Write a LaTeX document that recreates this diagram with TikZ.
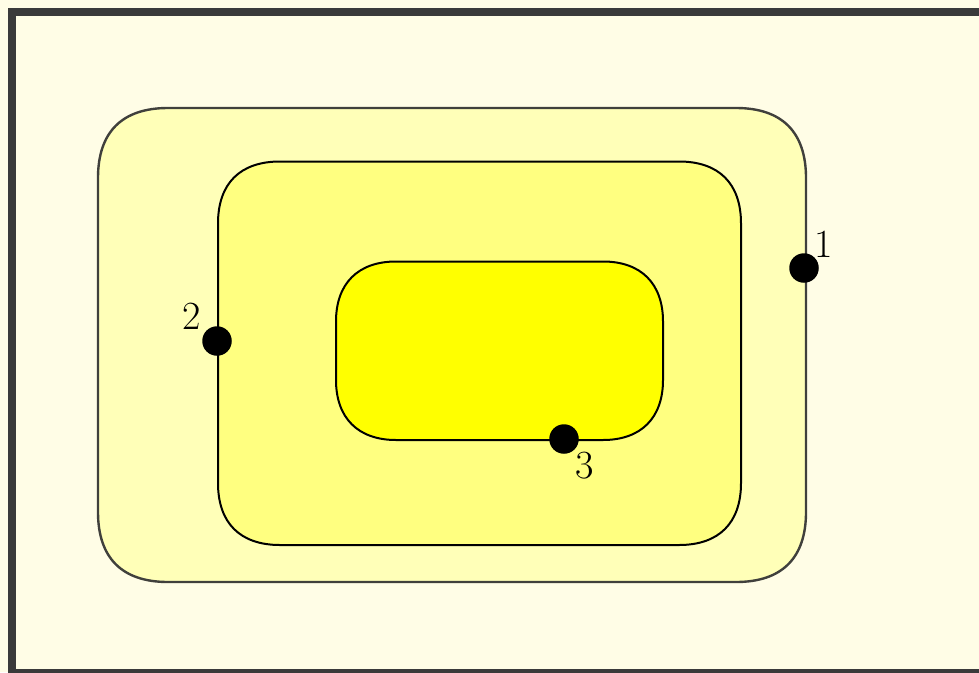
\documentclass[tikz,border=0pt]{standalone}
\definecolor{bgcol}{RGB}{255,253,230}
\definecolor{framecol}{RGB}{58,58,58}
\definecolor{outerfill}{RGB}{255,255,184}
\definecolor{midfill}{RGB}{255,255,128}
\definecolor{innerfill}{RGB}{255,255,0}
\definecolor{outerdraw}{RGB}{64,64,60}
\tikzset{
  region/.style={line width=2pt},
  pt/.style={circle,fill=black,inner sep=0pt,minimum size=29.5pt},
  lbl/.style={font=\fontsize{40}{44}\selectfont,inner sep=0pt}
}
% squircle-like rectangle: left, top, right, bottom, extent, control offset from corner
\newcommand\sqrpath[6]{%
  ({#1},{#2+#5}) -- ({#1},{#4-#5})
  .. controls ({#1},{#4-#6}) and ({#1+#6},{#4}) .. ({#1+#5},{#4})
  -- ({#3-#5},{#4})
  .. controls ({#3-#6},{#4}) and ({#3},{#4-#6}) .. ({#3},{#4-#5})
  -- ({#3},{#2+#5})
  .. controls ({#3},{#2+#6}) and ({#3-#6},{#2}) .. ({#3-#5},{#2})
  -- ({#1+#5},{#2})
  .. controls ({#1+#6},{#2}) and ({#1},{#2+#6}) .. ({#1},{#2+#5}) -- cycle}
\begin{document}
\begin{tikzpicture}[x=1pt,y=-1pt]
\useasboundingbox (0,0) rectangle (979,672);
\fill[bgcol] (0,0) rectangle (979,672);
\draw[framecol,line width=8pt] (12,12) rectangle (990,672.5);
\draw[region,outerdraw,line width=2.4pt,fill=outerfill] \sqrpath{98}{108}{806}{582}{70}{24};
\draw[region,black,fill=midfill] \sqrpath{218}{161.5}{741}{545}{62}{22};
\draw[region,black,fill=innerfill] \sqrpath{336}{261.5}{663}{440}{60}{22};
\node[pt] (p1) at (804,268) {};
\node[pt] (p2) at (217,341) {};
\node[pt] (p3) at (564,439) {};
\node[lbl] (l1) at (824,244) {1};
\node[lbl] (l2) at (192,316) {2};
\node[lbl] (l3) at (585,466) {3};
\end{tikzpicture}
\end{document}
